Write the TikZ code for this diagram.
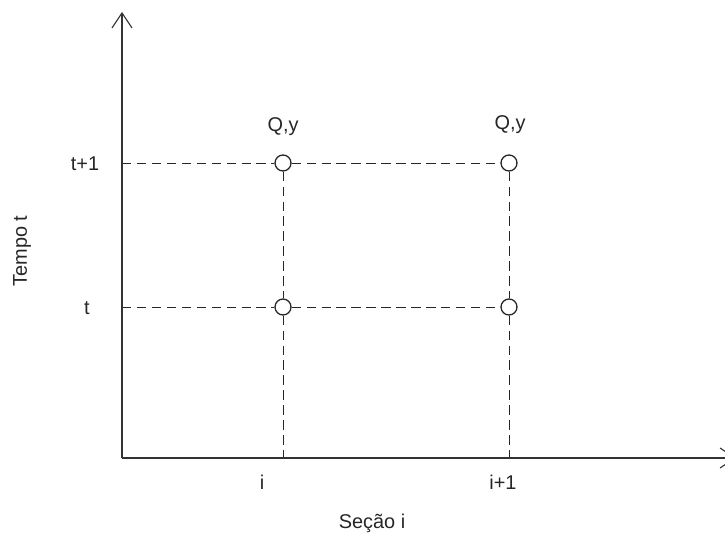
\documentclass[tikz,border=0pt]{standalone}
\usepackage{fontspec}
\setmainfont{Liberation Sans}
\usetikzlibrary{arrows.meta,positioning}

\begin{document}
\begin{tikzpicture}[x=0.03cm,y=-0.03cm,
  axis/.style={line width=1.1pt,black!80,-{Straight Barb[length=4.5mm,width=6mm,line width=0.9pt]}},
  grid/.style={line width=0.85pt,black!85,dash pattern=on 9.5\pgflinewidth off 5.5\pgflinewidth},
  pt/.style={draw,circle,line width=1.1pt,black!85,fill=white,minimum size=0.48cm,inner sep=0pt},
  lbl/.style={font=\fontsize{17}{20}\selectfont,text=black!85}]
  \clip (0,0) rectangle (725,537);
  % axes
  \coordinate (o) at (122,458);
  \coordinate (ytop) at (122,12);
  \coordinate (xend) at (736,458);
  % grid points
  \node[pt] (a1) at (283,163) {};
  \node[pt] (b1) at (509,163) {};
  \node[pt] (a0) at (283,307) {};
  \node[pt] (b0) at (509,307) {};
  \coordinate (y1) at (122,163);
  \coordinate (y0) at (122,307);
  \coordinate (xa) at (283,458);
  \coordinate (xb) at (509,458);
  \draw[grid] (y1) -- (a1) -- (b1);
  \draw[grid] (y0) -- (a0) -- (b0);
  \draw[grid] (a1) -- (a0) -- (xa);
  \draw[grid] (b1) -- (b0) -- (xb);
  \draw[axis] (o) -- (ytop);
  \draw[axis] (o) -- (xend);
  % labels
  \node[lbl] (qa) at (283,127) {Q,y};
  \node[lbl] (qb) at (510,125) {Q,y};
  \node[lbl] (t1) at (85,164) {t+1};
  \node[lbl] (t0) at (87,308) {t};
  \node[lbl,rotate=90] (tt) at (22,251) {Tempo t};
  \node[lbl] (i0) at (262,482) {i};
  \node[lbl] (i1) at (503,482) {i+1};
  \node[lbl] (si) at (372,523) {Seção i};
\end{tikzpicture}
\end{document}
